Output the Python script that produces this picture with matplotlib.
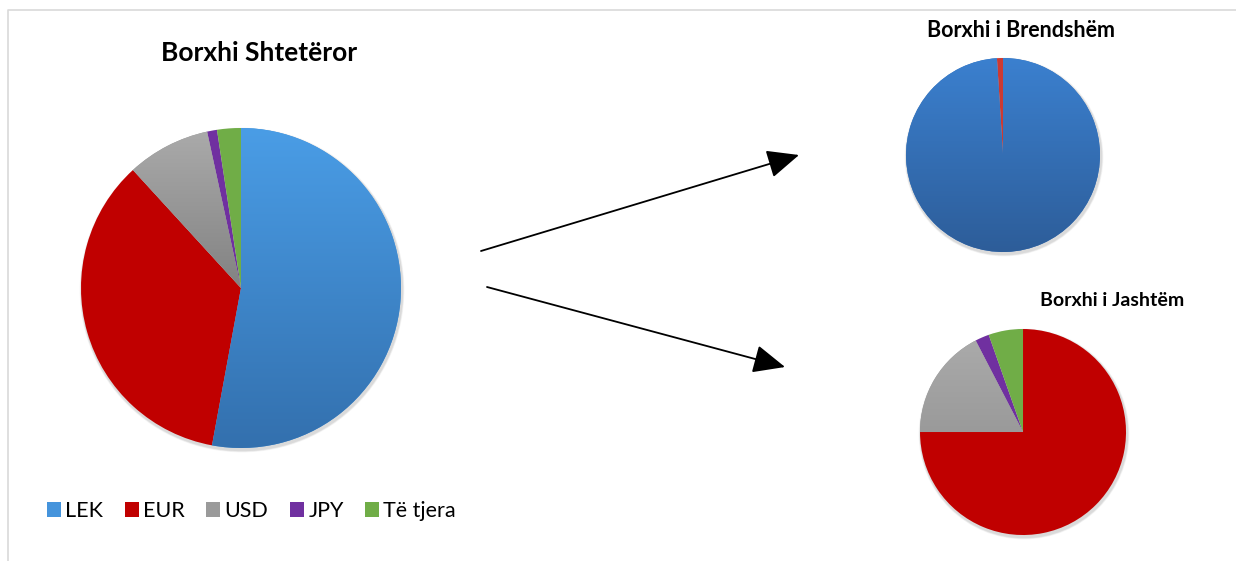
import numpy as np
import matplotlib.pyplot as plt
from matplotlib.colors import LinearSegmentedColormap
from matplotlib.patches import Circle

plt.rcParams['font.family'] = ['Lato', 'DejaVu Sans']

W, H = 1236, 561

# currency shares (%)
categories = ['LEK', 'EUR', 'USD', 'JPY', 'Të tjera']
total_debt = [52.9, 35.3, 8.4, 1.0, 2.4]
domestic_debt = [99.0, 1.0, 0.0, 0.0, 0.0]
foreign_debt = [0.0, 75.0, 17.4, 2.2, 5.4]

colors = ['#4594DC', '#C00000', '#9A9A9A', '#7030A0', '#70AD47']
dom_colors = ['#3675C0', '#CC3A33', '#9A9A9A', '#7030A0', '#70AD47']

fig = plt.figure(figsize=(W / 100, H / 100), dpi=100)
ax = fig.add_axes([0, 0, 1, 1])


def py(y):
    # pixel row from top -> data y
    return H - y


def shade(ax, wedge, top, bottom):
    # vertical gradient clipped to a wedge
    x0, y0, x1, y1 = wedge.get_path().get_extents(wedge.get_patch_transform()).extents
    cmap = LinearSegmentedColormap.from_list('g', [bottom, top])
    grad = np.linspace(0, 1, 256).reshape(-1, 1)
    im = ax.imshow(grad, cmap=cmap, extent=(x0, x1, y0, y1), origin='lower',
                   aspect='auto', zorder=wedge.get_zorder(), interpolation='bilinear')
    im.set_clip_path(wedge)


def shadow(ax, c, r):
    for k, a in [(4, 0.04), (3, 0.05), (2, 0.06)]:
        ax.add_patch(Circle((c[0] + 1, c[1] - 2), r + k * 0.6, color='black',
                            alpha=a, lw=0, zorder=1))


# main pie
c_main, r_main = (241, py(288)), 160
shadow(ax, c_main, r_main)
w_main, _ = ax.pie(total_debt, colors=colors, center=c_main, radius=r_main,
                   startangle=90, counterclock=False,
                   wedgeprops=dict(linewidth=0, zorder=2))
shade(ax, w_main[0], '#4A9DE6', '#3370AE')
shade(ax, w_main[2], '#AAAAAA', '#828282')

# domestic pie
c_dom, r_dom = (1003, py(155)), 97
shadow(ax, c_dom, r_dom)
w_dom, _ = ax.pie(domestic_debt, colors=dom_colors, center=c_dom, radius=r_dom,
                  startangle=90, counterclock=False,
                  wedgeprops=dict(linewidth=0, zorder=2))
shade(ax, w_dom[0], '#3B80CF', '#2D5D99')

# foreign pie
c_for, r_for = (1023, py(432)), 103
shadow(ax, c_for, r_for)
w_for, _ = ax.pie(foreign_debt, colors=colors, center=c_for, radius=r_for,
                  startangle=90, counterclock=False, explode=[0.02] * 5,
                  wedgeprops=dict(linewidth=0, zorder=2))
shade(ax, w_for[2], '#AAAAAA', '#9A9A9A')

# titles
ax.text(259, py(53), 'Borxhi Shtetëror', ha='center', va='center',
        fontsize=19, fontweight='bold', color='black')
ax.text(1021, py(30), 'Borxhi i Brendshëm', ha='center', va='center',
        fontsize=15.5, fontweight='bold', color='black')
ax.text(1112, py(300), 'Borxhi i Jashtëm', ha='center', va='center',
        fontsize=14, fontweight='bold', color='black')

# arrows
arrow = dict(arrowstyle='-|>,head_length=0.9,head_width=0.4', color='black',
             lw=1.3, mutation_scale=22, shrinkA=0, shrinkB=0)
ax.annotate('', xy=(799, py(155)), xytext=(481, py(251)), arrowprops=arrow)
ax.annotate('', xy=(785, py(367)), xytext=(487, py(287)), arrowprops=arrow)

# legend
leg = ax.legend(w_main, categories, loc='center left', bbox_to_anchor=(47 / W, 1 - 511 / H),
                ncol=5, frameon=False, fontsize=15.5, handlelength=0.65, handleheight=0.65,
                handletextpad=0.2, columnspacing=1.0, borderpad=0, borderaxespad=0)

# frame of the chart area
ax.plot([8, 8, W], [0, py(10), py(10)], color='#D9D9D9', lw=1.2, zorder=0)

ax.set_xlim(0, W)
ax.set_ylim(0, H)
ax.set_aspect('equal')
ax.axis('off')

fig.savefig('out.png', dpi=100, facecolor='white')
